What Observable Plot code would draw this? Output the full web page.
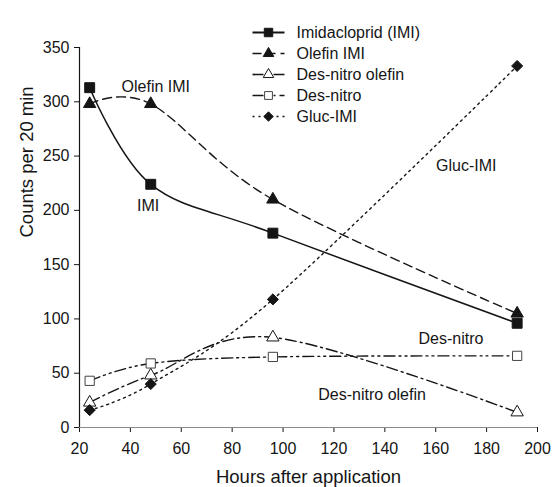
<!DOCTYPE html>
<html>
<head>
<meta charset="utf-8">
<script src="https://cdn.jsdelivr.net/npm/d3@7"></script>
<script src="https://cdn.jsdelivr.net/npm/@observablehq/plot@0.6"></script>
<style>
  html, body { margin: 0; padding: 0; background: #fff; }
  #wrap { position: relative; width: 555px; height: 487px; font-family: "Liberation Sans", Arial, sans-serif; }
  #legend { position: absolute; left: 240px; top: 0px; }
  #chart { position: absolute; left: 0; top: 0; }
</style>
</head>
<body>
<div id="wrap"><div id="chart"></div><div id="legend"></div></div>
<script>
// ---- data ----
const hours = [24, 48, 96, 192];
const seriesNames = ["Imidacloprid (IMI)", "Olefin IMI", "Des-nitro olefin", "Des-nitro", "Gluc-IMI"];
const imi            = [313, 224, 179, 96];
const olefinImi      = [298, 298, 210, 105];
const desNitroOlefin = [23, 48, 83, 14];
const desNitro       = [43, 59, 65, 66];
const glucImi        = [16, 40, 118, 333];
const xTicks = [20, 40, 60, 80, 100, 120, 140, 160, 180, 200];
const yTicks = [0, 50, 100, 150, 200, 250, 300, 350];
const xDomain = [20, 200];
const yDomain = [0, 350];
const xTitle = "Hours after application";
const yTitle = "Counts per 20 min";
// in-plot annotations (data coordinates)
const annotations = [
  {text: "Olefin IMI", x: 50, y: 314},
  {text: "IMI", x: 47, y: 204},
  {text: "Gluc-IMI", x: 172, y: 241},
  {text: "Des-nitro", x: 166, y: 82},
  {text: "Des-nitro olefin", x: 135, y: 30}
];

// ---- styles ----
const FONT = '"Liberation Sans", Arial, sans-serif';
const INK = "#151515";
const styles = [
  {dash: null,                 width: 1.5, symbol: "square",   r: 5.6, fill: INK,    stroke: INK},
  {dash: "9,5",                width: 1.4, symbol: "triangle", r: 4.6, fill: INK,    stroke: INK},
  {dash: "11,4,2,4",           width: 1.4, symbol: "triangle", r: 4.6, fill: "white", stroke: INK},
  {dash: "11,4,2,4,2,4",       width: 1.4, symbol: "square",   r: 5.2, fill: "white", stroke: "#444"},
  {dash: "2,4",                width: 1.4, symbol: "diamond2", r: 5.0, fill: INK,    stroke: INK}
];
const values = [imi, olefinImi, desNitroOlefin, desNitro, glucImi];
const series = seriesNames.map((name, i) => ({
  name, style: styles[i],
  points: hours.map((h, j) => ({hours: h, count: values[i][j]}))
}));

const marks = [];
marks.push(Plot.axisY({ticks: yTicks, tickSize: 5, tickPadding: 5, label: null, fontSize: 16, stroke: INK}));
marks.push(Plot.axisX({ticks: xTicks, tickSize: 5, tickPadding: 10, label: null, fontSize: 16, stroke: INK}));
marks.push(Plot.ruleY([yDomain[0]], {stroke: "#8a8a8a", strokeWidth: 1.2}));
marks.push(Plot.ruleX([xDomain[0]], {stroke: INK, strokeWidth: 1.2}));
for (const s of series) {
  marks.push(Plot.line(s.points, {x: "hours", y: "count", curve: "cardinal", tension: 0, stroke: INK,
    strokeWidth: s.style.width, strokeDasharray: s.style.dash || undefined}));
}
for (const s of series) {
  marks.push(Plot.dot(s.points, {x: "hours", y: "count", symbol: () => s.style.symbol, r: s.style.r,
    fill: s.style.fill, stroke: s.style.stroke, strokeWidth: 1}));
}
marks.push(Plot.text(annotations, {x: "x", y: "y", text: "text", fontSize: 16, fill: INK}));
marks.push(Plot.text([yTitle], {frameAnchor: "left", rotate: -90, dx: -52, fontSize: 18.5, fill: INK}));
marks.push(Plot.text([xTitle], {frameAnchor: "bottom", dy: 55, fontSize: 18.5, fill: INK}));

const chart = Plot.plot({
  width: 555, height: 487,
  marginLeft: 79, marginRight: 18, marginTop: 47, marginBottom: 60,
  x: {domain: xDomain},
  y: {domain: yDomain},
  symbol: {type: "identity"},
  style: {fontFamily: FONT, fontSize: "16px", color: INK, background: "white", overflow: "visible"},
  marks
});
document.getElementById("chart").appendChild(chart);

// ---- legend (its own small plot, laid over the top of the chart) ----
const legendRows = series.map(s => ({name: s.name, x0: 0, xm: 0.5, x1: 1}));
const legendMarks = [];
series.forEach((s, i) => {
  const row = [legendRows[i]];
  legendMarks.push(Plot.link(row, {x1: "x0", x2: "x1", y1: "name", y2: "name", stroke: INK,
    strokeWidth: s.style.width + 0.3, strokeDasharray: s.style.dash || undefined}));
  legendMarks.push(Plot.dot(row, {x: "xm", y: "name", symbol: () => s.style.symbol, r: s.style.r * 0.85,
    fill: s.style.fill, stroke: s.style.stroke, strokeWidth: 1}));
});
legendMarks.push(Plot.text(legendRows, {x: "x1", y: "name", text: "name", textAnchor: "start", dx: 12, fontSize: 16, fill: INK}));
const legend = Plot.plot({
  width: 300, height: 140,
  x: {domain: [0, 1], range: [12, 44], axis: null},
  y: {type: "point", domain: seriesNames, range: [21, 126], axis: null},
  symbol: {type: "identity"},
  style: {fontFamily: FONT, fontSize: "16px", color: INK, background: "transparent", overflow: "visible"},
  marks: legendMarks
});
document.getElementById("legend").appendChild(legend);
</script>
</body>
</html>
